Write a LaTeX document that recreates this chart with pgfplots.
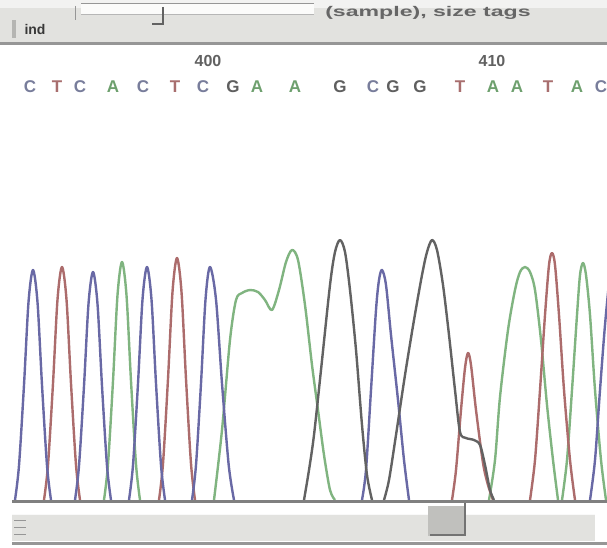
\documentclass[border=0pt]{standalone}
\usepackage{pgfplots}
\pgfplotsset{compat=1.18}
\usepackage{fontspec}
\setmainfont{Liberation Sans}
\definecolor{cB}{RGB}{105,105,165}
\definecolor{cR}{RGB}{172,108,108}
\definecolor{cG}{RGB}{128,180,128}
\definecolor{cK}{RGB}{98,98,98}
\definecolor{lB}{RGB}{120,125,155}
\definecolor{lR}{RGB}{168,110,110}
\definecolor{lA}{RGB}{110,160,110}
\definecolor{lG}{RGB}{95,95,95}
\definecolor{bar}{RGB}{226,226,223}
\definecolor{edge}{RGB}{150,150,150}
\begin{document}
\begin{tikzpicture}
\begin{axis}[scale only axis, width=607pt, height=547pt,
  xmin=0, xmax=607, ymin=-47, ymax=500, hide axis, clip=true,
  trace/.style={smooth, tension=0.5, line width=2.4pt, line join=round, no markers}]
\fill[white] (0,-47) rectangle (607,500);
% ---- toolbar ----
\fill[bar] (0,457) rectangle (607,500);
\fill[white!55!bar] (0,492) rectangle (607,500);
\fill[white!85!bar] (81,486) rectangle (314,496);
\draw[edge, line width=1pt] (81,496) -- (314,496);
\draw[edge!70!white, line width=0.8pt] (81,486) -- (314,486);
\draw[cK, line width=1.6pt] (163,493) -- (163,476) -- (152,476);
\draw[edge, line width=1pt] (75,494) -- (75,480);
\fill[bar!80!black] (12,462) rectangle (16,480);
\node[font=\fontsize{14}{14}\selectfont\bfseries, text=black!78] at (35,471) {ind};
\node[font=\fontsize{14}{14}\selectfont\bfseries, text=black!60] at (428,487) {\scalebox{1.65}[1]{(sample), size tags}};
\fill[edge] (0,454.5) rectangle (607,458);
% ---- position numbers and bases ----
\node[font=\fontsize{16}{16}\selectfont\bfseries, text=black!62] at (208,439) {400};
\node[font=\fontsize{16}{16}\selectfont\bfseries, text=black!62] at (492,439) {410};
\begin{scope}[every node/.style={font=\fontsize{17}{17}\selectfont\bfseries}]
\node[text=lB] at (30,413) {C};
\node[text=lR] at (57,413) {T};
\node[text=lB] at (80,413) {C};
\node[text=lA] at (113,413) {A};
\node[text=lB] at (143,413) {C};
\node[text=lR] at (175,413) {T};
\node[text=lB] at (203,413) {C};
\node[text=lG] at (233,413) {G};
\node[text=lA] at (257,413) {A};
\node[text=lA] at (295,413) {A};
\node[text=lG] at (340,413) {G};
\node[text=lB] at (373,413) {C};
\node[text=lG] at (393,413) {G};
\node[text=lG] at (420,413) {G};
\node[text=lR] at (460,413) {T};
\node[text=lA] at (493,413) {A};
\node[text=lA] at (517,413) {A};
\node[text=lR] at (548,413) {T};
\node[text=lA] at (577,413) {A};
\node[text=lB] at (601,413) {C};
\end{scope}
% ---- traces: green (A) ----
\addplot[trace, cG] coordinates {(104,0) (108,35.7) (113,119) (117.5,204.7) (122,238) (126.5,204.7) (131,119) (136,35.7) (140,0)};
\addplot[trace, cG] coordinates {(214,0) (222,70) (230,160) (236,200) (242,207) (250,210) (258,208) (265,200) (272,190) (279,210) (286,238) (292,250) (298,240) (305,195) (312,135) (318,90) (324,45) (330,10) (335,0)};
\addplot[trace, cG] coordinates {(489,0) (495,40) (500,103) (508,170) (515,210) (520,228) (525,233) (530,228) (535,210) (541,160) (547,95) (553,40) (558,0)};
\addplot[trace, cG] coordinates {(562,0) (567,40) (572,110) (577,185) (580,225) (583,237) (586,225) (590,185) (595,110) (601,40) (606,0)};
% ---- traces: red (T) ----
\addplot[trace, cR] coordinates {(44,0) (48,35) (53,116.5) (57.5,200.4) (62,233) (66.5,200.4) (71,116.5) (76,35) (80,0)};
\addplot[trace, cR] coordinates {(159,0) (163,36.3) (168,121) (172.5,208.1) (177,242) (181.5,208.1) (186,121) (191,36.3) (195,0)};
\addplot[trace, cR] coordinates {(452,0) (456,30) (461,90) (465,132) (468,147) (471,135) (476,90) (483,37) (488,15) (493,0)};
\addplot[trace, cR] coordinates {(530,0) (535,40) (540,110) (545,185) (549,235) (552,247) (555,235) (559,185) (564,110) (570,40) (575,0)};
% ---- traces: blue (C) ----
\addplot[trace, cB] coordinates {(15,0) (19,34.5) (24,115) (28.5,197.8) (33,230) (37.5,197.8) (42,115) (47,34.5) (51,0)};
\addplot[trace, cB] coordinates {(75,0) (79,34.2) (84,114) (88.5,196.1) (93,228) (97.5,196.1) (102,114) (107,34.2) (111,0)};
\addplot[trace, cB] coordinates {(129,0) (133,35) (138,116.5) (142.5,200.4) (147,233) (151.5,200.4) (156,116.5) (161,35) (165,0)};
\addplot[trace, cB] coordinates {(192,0) (196,35) (201,116.5) (205.5,200.4) (210,233) (216,200.4) (222,116.5) (228.7,35) (234,0)};
\addplot[trace, cB] coordinates {(362,0) (366,30) (371,110) (376,190) (379,220) (382,230) (386,215) (391,165) (398,100) (404,40) (409,0)};
\addplot[trace, cB] coordinates {(590,0) (595,40) (600,110) (605,175) (610,225) (614,240) (620,225)};
% ---- traces: black (G) ----
\addplot[trace, cK] coordinates {(304,0) (309,30) (314,65) (321,130) (330,215) (335,248) (340,260) (345,248) (350,210) (356,150) (362,75) (367,25) (372,0)};
\addplot[trace, cK] coordinates {(384,0) (389,20) (396,65) (405,125) (414,180) (422,225) (427,248) (432,260) (437,250) (443,215) (449,165) (455,110) (460,68) (466,62) (474,60) (480,55) (485,35) (490,10) (494,0)};
% ---- baseline and scrollbar ----
\fill[white] (0,-1.5) rectangle (607,-47);
\fill[edge!85!black] (12,-2.5) rectangle (607,0.5);
\fill[bar] (12,-14) rectangle (595,-41);
\draw[white!80!bar, line width=1pt] (12,-14) -- (595,-14);
\fill[bar!85!black] (428,-6) rectangle (466,-36);
\draw[black!55, line width=1.6pt] (465,-3) -- (465,-35) -- (430,-35);
\draw[edge, line width=0.8pt] (14,-20) -- (26,-20) (14,-27) -- (26,-27) (14,-34) -- (26,-34);
\fill[edge] (12,-42) rectangle (607,-45);
\end{axis}
\end{tikzpicture}
\end{document}
